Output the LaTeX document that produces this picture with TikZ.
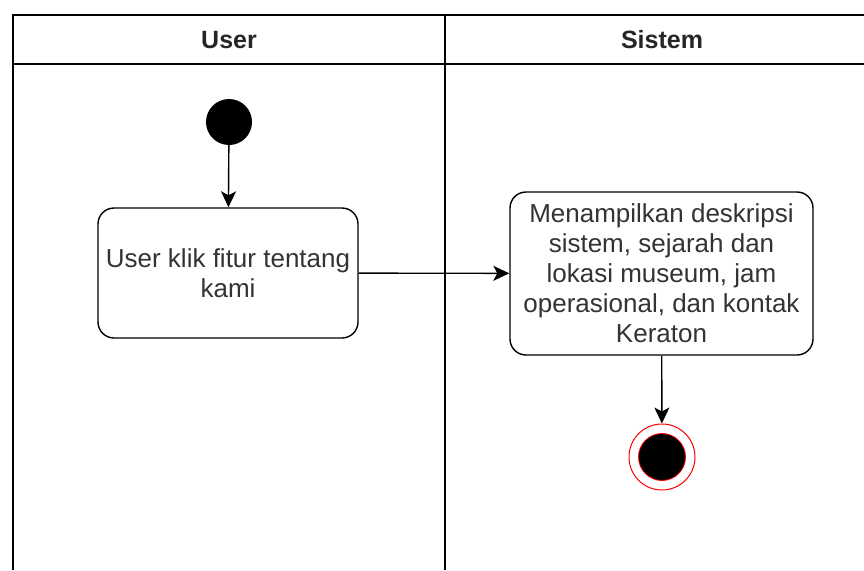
\documentclass[tikz,border=0pt]{standalone}
\usepackage{fontspec}
\setmainfont{Liberation Sans}
\usetikzlibrary{arrows.meta}
\definecolor{txt}{HTML}{333333}
\tikzset{
  lane/.style={line width=1.8pt, draw=black},
  actbox/.style={draw=black, line width=1.4pt, rounded corners=16pt, fill=white,
    align=center, text=txt, font=\fontsize{26}{30}\selectfont, inner sep=0pt},
  flow/.style={line width=1.4pt, -{Stealth[length=16pt,width=15pt,inset=4pt]}},
  head/.style={font=\bfseries\fontsize{25}{30}\selectfont, text=black!85}
}
\begin{document}
\begin{tikzpicture}[x=1pt,y=-1pt]
  \useasboundingbox (0,0) rectangle (864,570);
  % swimlane frame
  \draw[lane] (864,15) -- (13,15) -- (13,570);
  \draw[lane] (13,64) -- (864,64);
  \draw[lane] (445,15) -- (445,570);
  \node[head] (hUser) at (229,40) {User};
  \node[head] (hSistem) at (662,40) {Sistem};
  % initial state
  \node[circle, fill=black, minimum size=46pt, inner sep=0pt] (start) at (229,122) {};
  % actions
  \node[actbox, minimum width=260pt, minimum height=130pt] (klik) at (228,273)
    {User klik fitur tentang\\kami};
  \node[actbox, minimum width=303pt, minimum height=163pt] (tampil) at (661.5,273.5)
    {Menampilkan deskripsi\\sistem, sejarah dan\\lokasi museum, jam\\operasional, dan kontak\\Keraton};
  % final state
  \node[circle, draw=red, line width=1pt, fill=white, minimum size=66pt, inner sep=0pt] (stop) at (662,457) {};
  \node[circle, draw=red, line width=0.8pt, fill=black, minimum size=47pt, inner sep=0pt] (stopdot) at (stop) {};
  % flows
  \draw[flow] (start) -- (klik);
  \draw[flow] (klik) -- (tampil);
  \draw[flow] (tampil) -- (stop);
\end{tikzpicture}
\end{document}
